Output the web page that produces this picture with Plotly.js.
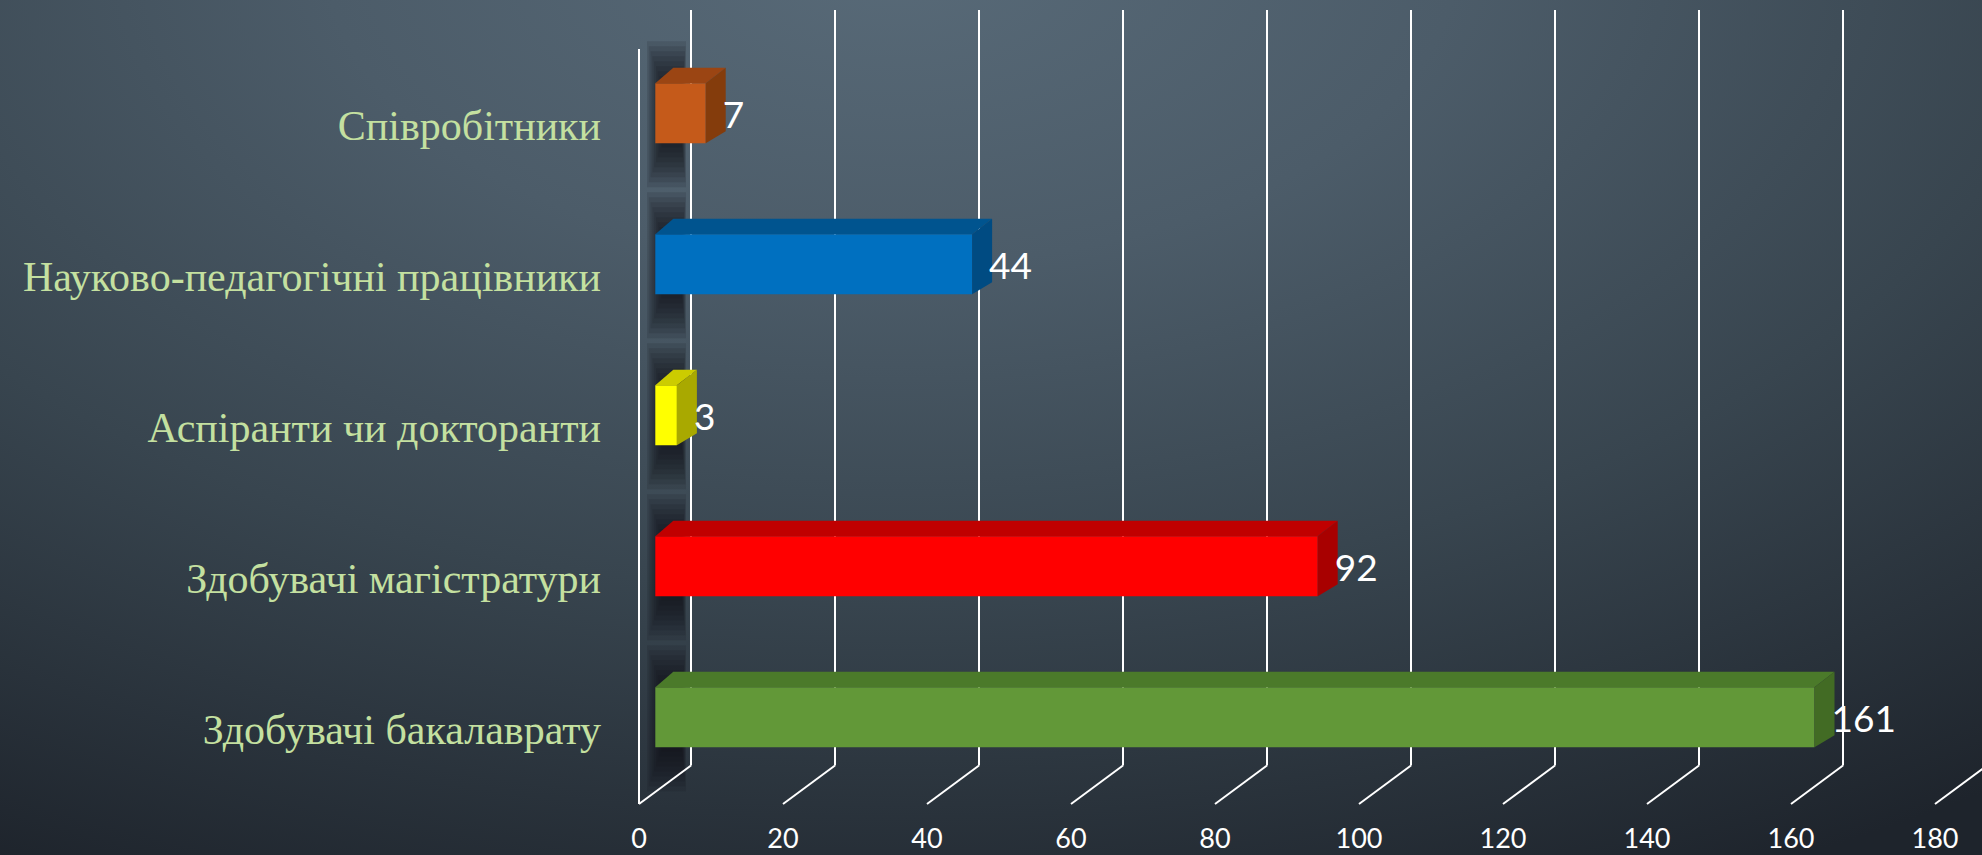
<!DOCTYPE html>
<html>
<head>
<meta charset="utf-8">
<script src="https://cdn.plot.ly/plotly-3.0.1.min.js"></script>
<style>
  html, body { margin: 0; padding: 0; width: 1982px; height: 855px; overflow: hidden; }
  body {
    background:
      radial-gradient(ellipse 95% 120% at 45% -5%, #586a78 0%, #4c5c69 30%, #38454f 62%, #1e242c 100%);
  }
  #chart { width: 1982px; height: 855px; }
</style>
</head>
<body>
<div id="chart"></div>
<script>
// ---- data ----
const categories = ['Здобувачі бакалаврату', 'Здобувачі магістратури', 'Аспіранти чи докторанти', 'Науково-педагогічні працівники', 'Співробітники'];
const values = [161, 92, 3, 44, 7];
const frontColors = ['#629838', '#ff0000', '#ffff00', '#0070c0', '#c55a1a'];
const topColors   = ['#4b7a2a', '#c00000', '#cccc00', '#00548f', '#9b4513'];
const sideColors  = ['#426b24', '#a80000', '#a9a900', '#004b82', '#843c0c'];
const xTicks = [0, 20, 40, 60, 80, 100, 120, 140, 160, 180];

// ---- geometry (pixel style constants) ----
const W = 1982, H = 855;
const ML = 610, MB = 40;
const PX = 7.2;          // px per value unit
const X0 = 655.3;        // px of value 0 on bar front plane
const PY = 151;          // px per category step
const Y0 = 717.2;        // px of first category centre (front)
const xd = px => (px - X0) / PX;     // pixel -> data x
const dxU = px => px / PX;           // pixel length -> data x
const yd = py => (Y0 - py) / PY;     // pixel -> data y
const dyU = py => py / PY;           // pixel length -> data y

const FRONT_X = 639, BACK_X = 691;
const FLOOR_FRONT_Y = 804, FLOOR_BACK_Y = 765.5, WALL_TOP_Y = 10, LEFT_TOP_Y = 49;
const BAR_H = 60;
const DXL = 18, DXR = 20, DYT = 15.5, DYB = 12;

const idx = categories.map((c, i) => i);
const half = dyU(BAR_H / 2);

const shapes = [];
// soft shadows behind bars
idx.forEach(i => {
  const n = 9;
  for (let j = 0; j < n; j++) {
    shapes.push({type: 'rect', xref: 'x', yref: 'y', layer: 'below',
      x0: xd(647 + j * 1.8), x1: xd(686 - j * 0.5),
      y0: i - half - dyU(44 - j * 5), y1: i + half + dyU(42 - j * 5),
      fillcolor: 'rgba(14,16,20,0.13)', line: {width: 0}});
  }
});
// back-wall vertical grid lines and floor diagonals
xTicks.forEach(v => {
  shapes.push({type: 'line', xref: 'x', yref: 'y', layer: 'below',
    x0: v + xd(BACK_X), x1: v + xd(BACK_X), y0: yd(WALL_TOP_Y), y1: yd(FLOOR_BACK_Y),
    line: {color: '#ffffff', width: 2}});
  shapes.push({type: 'line', xref: 'x', yref: 'y', layer: 'below',
    x0: v + xd(FRONT_X), x1: v + xd(BACK_X), y0: yd(FLOOR_FRONT_Y), y1: yd(FLOOR_BACK_Y),
    line: {color: '#ffffff', width: 2}});
});
// left wall line
shapes.push({type: 'line', xref: 'x', yref: 'y', layer: 'below',
  x0: xTicks[0] + xd(FRONT_X), x1: xTicks[0] + xd(FRONT_X), y0: yd(LEFT_TOP_Y), y1: yd(FLOOR_FRONT_Y),
  line: {color: '#ffffff', width: 2}});

const traces = [];
traces.push({
  type: 'bar', orientation: 'h', x: values, y: idx, width: dyU(BAR_H),
  marker: {color: frontColors, line: {width: 0}}, hoverinfo: 'skip'
});
values.forEach((v, i) => {
  const yt = i + half, yb = i - half;
  traces.push({type: 'scatter', mode: 'lines', fill: 'toself', hoverinfo: 'skip',
    x: [0, v, v + dxU(DXR), dxU(DXL), 0],
    y: [yt, yt, yt + dyU(DYT), yt + dyU(DYT), yt],
    fillcolor: topColors[i], line: {width: 0, color: topColors[i]}});
  traces.push({type: 'scatter', mode: 'lines', fill: 'toself', hoverinfo: 'skip',
    x: [v, v + dxU(DXR), v + dxU(DXR), v, v],
    y: [yt, yt + dyU(DYT), yb + dyU(DYB), yb, yt],
    fillcolor: sideColors[i], line: {width: 0, color: sideColors[i]}});
});
traces.push({
  type: 'scatter', mode: 'text', x: values.map(v => v + dxU(17)), y: idx.map(i => i - dyU(6)),
  text: values.map(String), textposition: 'middle right', cliponaxis: false,
  textfont: {family: 'Lato, sans-serif', size: 37, color: '#ffffff'}, hoverinfo: 'skip'
});

const layout = {
  width: W, height: H,
  margin: {l: ML, r: 0, t: 0, b: MB, pad: 0},
  paper_bgcolor: 'rgba(0,0,0,0)', plot_bgcolor: 'rgba(0,0,0,0)',
  showlegend: false,
  xaxis: {
    range: [xd(ML), xd(W)], showgrid: false, zeroline: false, showline: false, ticks: '',
    tickvals: xTicks.map(v => v + xd(FRONT_X)), ticktext: xTicks.map(String),
    tickfont: {family: 'Lato, sans-serif', size: 27, color: '#ffffff'},
    ticklabelstandoff: 5, fixedrange: true
  },
  yaxis: {
    range: [yd(H - MB), yd(0)], showgrid: false, zeroline: false, showline: false, ticks: '',
    tickvals: idx.map(i => i - dyU(12)), ticktext: categories,
    tickfont: {family: '"Liberation Serif", "Times New Roman", serif', size: 42, color: '#c4e0a0'},
    ticklabelstandoff: 8, fixedrange: true
  },
  shapes: shapes
};

Plotly.newPlot('chart', traces, layout, {displayModeBar: false, staticPlot: true});
</script>
</body>
</html>
